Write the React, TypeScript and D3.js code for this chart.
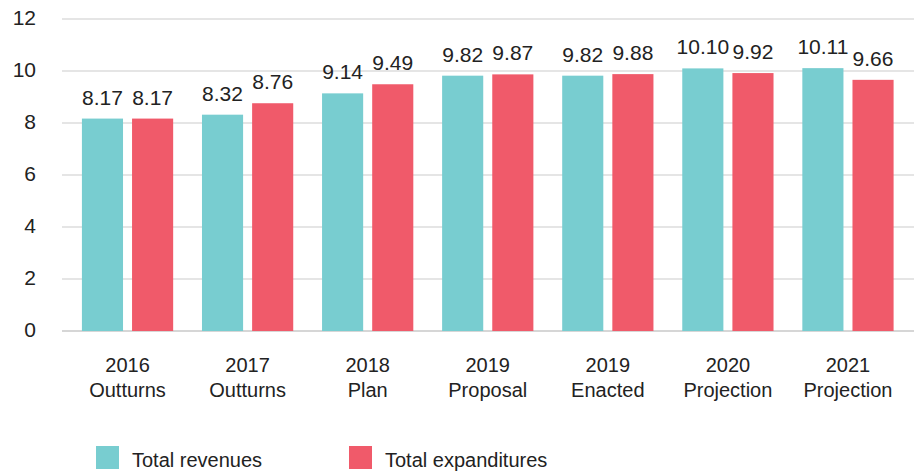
import React from 'react';
import * as d3 from 'd3';

// chart data
const years = ['2016', '2017', '2018', '2019', '2019', '2020', '2021'];
const stages = ['Outturns', 'Outturns', 'Plan', 'Proposal', 'Enacted', 'Projection', 'Projection'];
const revenues = [8.17, 8.32, 9.14, 9.82, 9.82, 10.1, 10.11];
const expenditures = [8.17, 8.76, 9.49, 9.87, 9.88, 9.92, 9.66];
const yTicks = [0, 2, 4, 6, 8, 10, 12];
const seriesNames = ['Total revenues', 'Total expanditures'];

const W = 914;
const H = 472;
const TEAL = '#78cdd0';
const RED = '#f05a6a';
const TEXT = '#222222';
const FONT = '"Liberation Sans", Arial, sans-serif';

const App = () => {
  const margin = { top: 19, right: 6, bottom: 141, left: 62 };

  const y = d3.scaleLinear().domain([0, 12]).range([H - margin.bottom, margin.top]);

  const x = d3.scaleBand<number>()
    .domain(d3.range(years.length))
    .range([67.5, 908])
    .paddingInner(0.24)
    .paddingOuter(0.12);

  const inner = d3.scaleBand<number>()
    .domain([0, 1])
    .range([0, x.bandwidth()])
    .paddingInner(0.18);

  const fmt = d3.format('.2f');
  const series = [revenues, expenditures];
  const colors = [TEAL, RED];

  return (
    <svg width={W} height={H} style={{ position: 'absolute', left: 0, top: 0, background: '#fff' }}
      fontFamily={FONT}>
      {/* grid */}
      {yTicks.map(t => (
        <g key={t}>
          <line x1={margin.left} x2={W} y1={y(t)} y2={y(t)}
            stroke={t === 0 ? '#d6d6d6' : '#dcdcdc'} strokeWidth={t === 0 ? 2 : 1.3} />
          <text x={36} y={y(t) + 6} textAnchor="end" fontSize={21} fill={TEXT}>{t}</text>
        </g>
      ))}

      {/* bars */}
      {years.map((yr, i) => (
        <g key={i} transform={`translate(${x(i)},0)`}>
          {series.map((s, j) => {
            const bx = inner(j) as number;
            const bw = inner.bandwidth();
            return (
              <g key={j}>
                <rect x={bx} y={y(s[i])} width={bw} height={y(0) - y(s[i])} fill={colors[j]} />
                <text x={bx + bw / 2} y={y(s[i]) - 14} textAnchor="middle" fontSize={21} fill={TEXT}>
                  {fmt(s[i])}
                </text>
              </g>
            );
          })}
          <text x={x.bandwidth() / 2} y={372} textAnchor="middle" fontSize={20} fill={TEXT}>{yr}</text>
          <text x={x.bandwidth() / 2} y={397} textAnchor="middle" fontSize={20} fill={TEXT}>{stages[i]}</text>
        </g>
      ))}

      {/* legend */}
      {seriesNames.map((name, j) => {
        const lx = j === 0 ? 96 : 349;
        return (
          <g key={name} transform={`translate(${lx},446)`}>
            <rect width={23} height={23} fill={colors[j]} />
            <text x={36} y={21} fontSize={20} fill={TEXT}>{name}</text>
          </g>
        );
      })}
    </svg>
  );
};

export default App;
